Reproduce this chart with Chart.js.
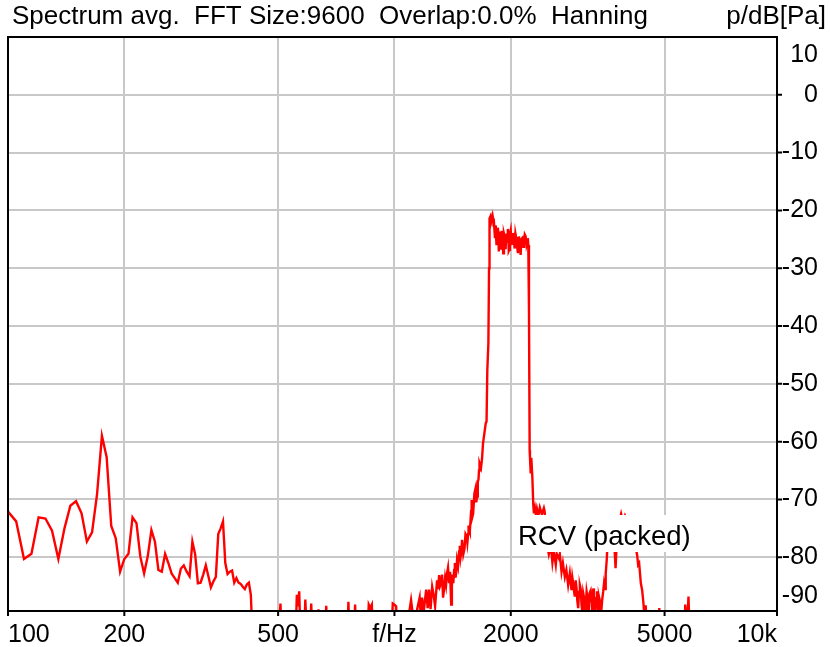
<!DOCTYPE html>
<html>
<head>
<meta charset="utf-8">
<script src="https://cdn.jsdelivr.net/npm/chart.js@4.4.0/dist/chart.umd.min.js"></script>
<style>
html, body { margin: 0; padding: 0; background: #fff; }
</style>
</head>
<body>
<canvas id="chart" width="830" height="647"></canvas>
<script>
var title = 'Spectrum avg.  FFT Size:9600  Overlap:0.0%  Hanning';
var unitLabel = 'p/dB[Pa]';
var seriesName = 'RCV (packed)';

var xGrid = [200, 500, 1000, 2000, 5000];
var xTickValues = [100, 200, 500, 1000, 2000, 5000, 10000];
var xTickLabels = ['100', '200', '500', 'f/Hz', '2000', '5000', '10k'];
var yGrid = [0, -10, -20, -30, -40, -50, -60, -70, -80];
var yTickValues = [10, 0, -10, -20, -30, -40, -50, -60, -70, -80, -90];

// [f/Hz, dB]; anything under about -89 is below the plot floor
var lowBand = [
    [95, -50], [100, -72.1], [105, -73.8], [110, -80.3], [115, -79.4], [120, -73.1], [125, -73.3],
    [130, -75.4], [135, -80.3], [140, -75.0], [145, -71.1], [150, -70.3], [155, -72.4], [160, -77.3],
    [165, -75.7], [170, -69.1], [175, -59.0], [180, -62.7], [185, -74.6], [190, -76.7], [195, -82.5],
    [200, -80.3], [205, -79.4], [210, -73.1], [215, -74.1], [220, -79.9], [225, -82.8], [230, -79.8],
    [235, -75.3], [240, -77.3], [245, -82.2], [250, -82.5], [255, -79.4], [260, -81.0], [265, -82.8],
    [270, -83.6], [275, -84.4], [280, -82.0], [285, -81.4], [290, -82.5], [295, -83.3], [300, -77.3],
    [305, -79.5], [310, -84.5], [315, -84.4], [320, -83.0], [325, -81.4], [330, -83.3], [335, -85.2],
    [340, -84.2], [345, -83.4], [350, -76.0], [355, -75.0], [360, -73.8], [365, -81.0], [370, -82.9],
    [375, -82.5], [380, -82.3], [385, -84.4], [390, -83.6], [395, -84.4], [400, -84.6], [405, -85.1],
    [410, -85.5], [415, -84.7], [420, -84.4], [425, -86.5], [430, -95]
];
var floorBand = [
    [500, -95], [507, -88.0], [512, -95], [519, -95], [522, -89.2], [525, -95], [554, -95], [559, -86.5],
    [562, -88.5], [567, -85.9], [572, -95], [583, -95], [588, -87.3], [594, -95], [604, -95], [609, -88.0],
    [614, -95], [631, -95], [636, -89.0], [641, -95], [660, -95], [666, -88.4], [672, -95], [755, -95],
    [760, -87.7], [766, -95], [785, -95], [791, -88.2], [797, -95], [850, -95], [858, -88.2], [866, -88.8],
    [874, -88.2], [882, -95], [980, -95], [990, -88.0], [1000, -88.2], [1010, -88.5], [1022, -95]
];
var riseBand = [
    [1070, -95], [1078, -92], [1104, -87.4], [1114, -89.5], [1131, -95], [1145, -89.0], [1162, -87.0],
    [1169, -90.0], [1179, -87.0], [1190, -89.5], [1208, -85.6], [1219, -88.8], [1229, -85.6], [1240, -89.0],
    [1252, -85.1], [1263, -86.5], [1274, -88.5], [1289, -84.0], [1297, -85.5], [1305, -83.1], [1312, -85.0],
    [1320, -84.5], [1328, -83.0], [1336, -87.0], [1344, -85.5], [1352, -83.6], [1360, -84.8], [1368, -82.8],
    [1376, -81.8], [1385, -84.5], [1393, -82.5], [1402, -88.2], [1408, -85.0], [1414, -83.0], [1420, -84.5],
    [1427, -82.2], [1433, -81.0], [1439, -83.5], [1446, -82.5], [1452, -80.5], [1461, -81.5], [1470, -79.0],
    [1476, -78.0], [1483, -80.0], [1490, -79.0], [1496, -77.0], [1507, -79.5], [1518, -78.5], [1527, -76.0],
    [1537, -76.4], [1544, -77.5], [1551, -76.0], [1555, -74.5], [1560, -75.0], [1567, -75.5], [1574, -73.5],
    [1579, -72.0], [1584, -70.1], [1591, -73.0], [1598, -72.5], [1610, -69.0], [1621, -68.1], [1628, -70.5],
    [1636, -69.5], [1643, -67.0], [1650, -66.5], [1655, -65.0], [1660, -63.7], [1675, -64.5], [1685, -63.0],
    [1695, -60.3], [1723, -56.8], [1731, -56.5], [1739, -47.6], [1750, -43.0], [1757, -30.0], [1762, -21.4]
];
var plateauBand = [
    [1770, -21.1], [1774, -22.5], [1778, -21.6], [1783, -21.0], [1788, -21.5], [1794, -20.9], [1799, -21.4],
    [1804, -22.8], [1809, -21.4], [1815, -23.5], [1820, -24.8], [1824, -22.6], [1829, -23.4], [1837, -26.0],
    [1846, -24.8], [1851, -23.0], [1857, -23.7], [1860, -25.5], [1864, -27.1], [1870, -24.0], [1875, -23.7],
    [1882, -25.5], [1889, -26.6], [1894, -23.5], [1900, -24.2], [1906, -25.8], [1912, -27.4], [1920, -24.0],
    [1928, -24.5], [1934, -26.5], [1940, -26.3], [1950, -24.0], [1959, -25.4], [1965, -23.2], [1971, -24.2],
    [1976, -27.0], [1982, -26.8], [1990, -24.0], [1999, -23.4], [2005, -25.0], [2011, -26.0], [2018, -24.3],
    [2026, -23.9], [2036, -25.2], [2047, -26.6], [2056, -24.0], [2066, -24.8], [2076, -26.2], [2087, -27.4],
    [2094, -24.8], [2100, -24.5], [2110, -26.0], [2121, -27.7], [2130, -25.0], [2142, -24.8], [2152, -26.3],
    [2163, -25.7], [2174, -24.2], [2185, -24.5], [2196, -26.0], [2207, -25.4], [2214, -24.8], [2220, -26.0],
    [2229, -37.3], [2238, -61.5]
];
var fallBand = [
    [2242, -62.6], [2252, -65.5], [2260, -62.8], [2274, -66.1], [2287, -71.0], [2296, -72.4], [2310, -71.5],
    [2323, -72.7], [2337, -71.6], [2357, -72.8], [2378, -71.4], [2407, -72.6], [2436, -71.5], [2446, -72.0],
    [2479, -77.5], [2509, -79.5], [2539, -78.0], [2563, -80.9], [2584, -79.0], [2615, -81.3], [2631, -79.4],
    [2664, -80.2], [2679, -79.5], [2706, -82.5], [2728, -81.0], [2760, -83.4], [2785, -82.2], [2815, -84.8],
    [2843, -82.8], [2872, -85.7], [2886, -83.5], [2900, -84.5], [2915, -85.8], [2929, -86.8], [2944, -84.0],
    [2959, -85.4], [2973, -87.5], [2988, -88.8], [3003, -86.0], [3018, -84.8], [3034, -85.5], [3049, -88.3],
    [3064, -89.5], [3079, -86.2], [3095, -87.0], [3110, -90.5], [3126, -88.5], [3142, -85.9], [3157, -86.8],
    [3172, -90.5], [3185, -88.0], [3199, -86.2], [3218, -85.8], [3237, -88.0], [3252, -89.5], [3268, -85.4],
    [3282, -86.5], [3296, -90.5], [3312, -89.0], [3328, -87.1], [3342, -85.9], [3356, -88.3], [3369, -89.5],
    [3382, -86.8], [3400, -87.5], [3417, -90.5], [3434, -88.8], [3451, -87.1], [3468, -86.0], [3486, -84.5]
];
var humpBand = [
    [3507, -85.5], [3521, -82.8], [3542, -80.5], [3564, -77.0], [3613, -74.5], [3657, -74.0], [3701, -77.0],
    [3734, -81.9], [3768, -76.0], [3813, -74.0], [3859, -72.5], [3905, -74.0], [3952, -72.8], [4000, -73.5],
    [4048, -74.5], [4122, -75.0], [4196, -78.0], [4246, -79.6], [4271, -81.3], [4297, -81.0], [4341, -84.5],
    [4375, -85.7], [4409, -88.0], [4441, -91.0], [4468, -88.3], [4509, -95], [4815, -95], [4845, -88.8],
    [4874, -95], [5630, -95], [5654, -88.2], [5714, -92.0], [5766, -86.8], [5818, -95], [9800, -100]
];

var spectrum = lowBand.concat(floorBand, riseBand, plateauBand, fallBand, humpBand);
var points = spectrum.map(function (p) {
    return { x: p[0], y: p[1] };
});

var FONT = '"Liberation Sans", Arial, sans-serif';

var framePlugin = {
    id: 'frame',
    afterDraw: function (chart) {
        var ctx = chart.ctx;
        var area = chart.chartArea;
        var xs = chart.scales.x;
        var ys = chart.scales.y;
        ctx.save();

        // series label on a white patch
        ctx.font = '27.5px ' + FONT;
        var tw = ctx.measureText(seriesName).width;
        ctx.fillStyle = '#fff';
        ctx.fillRect(516, 515, tw + 6, 37);
        ctx.fillStyle = '#000';
        ctx.textAlign = 'left';
        ctx.textBaseline = 'alphabetic';
        ctx.fillText(seriesName, 518, 545);

        // frame
        ctx.strokeStyle = '#000';
        ctx.lineWidth = 2;
        ctx.strokeRect(area.left, area.top, area.right - area.left, area.bottom - area.top);

        // tick marks
        ctx.beginPath();
        xTickValues.forEach(function (v) {
            var px = Math.min(Math.max(xs.getPixelForValue(v), area.left), area.right);
            ctx.moveTo(px, area.bottom);
            ctx.lineTo(px, area.bottom + 5);
        });
        yGrid.forEach(function (v) {
            var py = ys.getPixelForValue(v);
            ctx.moveTo(area.right, py);
            ctx.lineTo(area.right + 5, py);
        });
        ctx.stroke();

        // title and unit
        ctx.fillStyle = '#000';
        ctx.textBaseline = 'alphabetic';
        ctx.font = '26px ' + FONT;
        ctx.textAlign = 'left';
        ctx.fillText(title, 12, 24);
        ctx.textAlign = 'right';
        ctx.fillText(unitLabel, 826, 24);

        // axis labels
        ctx.font = '25px ' + FONT;
        xTickValues.forEach(function (v, i) {
            var px = xs.getPixelForValue(v);
            if (i === 0) {
                ctx.textAlign = 'left';
                px = area.left;
            } else if (i === xTickValues.length - 1) {
                ctx.textAlign = 'right';
                px = area.right;
            } else {
                ctx.textAlign = 'center';
            }
            ctx.fillText(xTickLabels[i], px, 642);
        });

        ctx.textAlign = 'right';
        ctx.textBaseline = 'middle';
        yTickValues.forEach(function (v) {
            var py = Math.min(Math.max(ys.getPixelForValue(v), area.top + 18), area.bottom - 15);
            ctx.fillText(String(v), 818, py);
        });
        ctx.restore();
    }
};

var ctx = document.getElementById('chart');

var spectrumChart = new Chart(ctx, {
    type: 'line',
    data: {
        datasets: [
            {
                label: seriesName,
                data: points,
                borderColor: '#ff0000',
                borderWidth: 2.4,
                pointRadius: 0,
                tension: 0,
                fill: false,
                clip: 0
            }
        ]
    },
    options: {
        responsive: false,
        animation: false,
        devicePixelRatio: 1,
        layout: {
            padding: { left: 8, top: 37, right: 0, bottom: 0 }
        },
        plugins: {
            legend: { display: false },
            tooltip: { enabled: false }
        },
        scales: {
            x: {
                type: 'logarithmic',
                min: 100,
                max: 9770,
                afterBuildTicks: function (scale) {
                    scale.ticks = xGrid.map(function (v) { return { value: v }; });
                },
                afterFit: function (scale) {
                    scale.height = 36;
                },
                ticks: { display: false },
                grid: { color: '#c8c8c8', lineWidth: 2, drawTicks: false },
                border: { display: false }
            },
            y: {
                type: 'linear',
                position: 'right',
                min: -89.3,
                max: 10,
                afterBuildTicks: function (scale) {
                    scale.ticks = yGrid.map(function (v) { return { value: v }; });
                },
                afterFit: function (scale) {
                    scale.width = 53;
                },
                ticks: { display: false },
                grid: { color: '#c8c8c8', lineWidth: 2, drawTicks: false },
                border: { display: false }
            }
        }
    },
    plugins: [framePlugin]
});
</script>
</body>
</html>
